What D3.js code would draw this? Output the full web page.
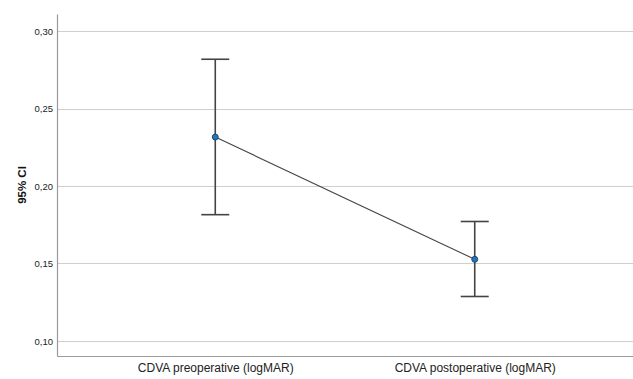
<!DOCTYPE html>
<html><head><meta charset="utf-8">
<script src="https://cdn.jsdelivr.net/npm/d3@7"></script>
<style>body{margin:0;background:#fff;}svg{display:block;}</style>
</head><body>
<script>
const categories = ["CDVA preoperative (logMAR)", "CDVA postoperative (logMAR)"];
const means = [0.2316, 0.1527];
const lower = [0.1815, 0.1287];
const upper = [0.2818, 0.1771];
const yTicks = [0.10, 0.15, 0.20, 0.25, 0.30];

(function () {
const W = 633, H = 379;
const mLeft = 57, mRight = 633, mTop = 14, mBottom = 356;
const svg = d3.select("body").append("svg").attr("width", W).attr("height", H);

const y = d3.scaleLinear().domain([0.0903, 0.311]).range([mBottom, mTop]);
const x = d3.scalePoint().domain(categories).range([mLeft, mRight]).padding(0.61);

// gridlines
svg.append("g").selectAll("line").data(yTicks).join("line")
  .attr("x1", mLeft).attr("x2", mRight)
  .attr("y1", d => Math.round(y(d)) + 0.5).attr("y2", d => Math.round(y(d)) + 0.5)
  .attr("stroke", "#cfcfcf").attr("stroke-width", 1);

// y axis
const yAxis = d3.axisLeft(y).tickValues(yTicks).tickSize(0).tickPadding(4)
  .tickFormat(d => d3.format(".2f")(d).replace(".", ","));
const gy = svg.append("g").attr("transform", `translate(${mLeft},0)`).call(yAxis);
gy.select(".domain").attr("stroke", "#9a9a9a").attr("stroke-width", 1.2);
gy.selectAll("text").attr("font-family", "Arial, 'Liberation Sans', sans-serif").attr("font-size", 9.5).attr("fill", "#222");

// x axis
const xAxis = d3.axisBottom(x).tickSize(0).tickPadding(7);
const gx = svg.append("g").attr("transform", `translate(0,${mBottom})`).call(xAxis);
gx.select(".domain").attr("stroke", "#9a9a9a").attr("stroke-width", 1.2);
gx.selectAll("text").attr("font-family", "Arial, 'Liberation Sans', sans-serif").attr("font-size", 12).attr("fill", "#222");

// y label
svg.append("text").attr("transform", `translate(26,${(mTop + mBottom) / 2}) rotate(-90)`)
  .attr("text-anchor", "middle").attr("font-family", "Arial, 'Liberation Sans', sans-serif")
  .attr("font-size", 11.5).attr("font-weight", "bold").attr("fill", "#111").text("95% CI");

const data = categories.map((c, i) => ({c, m: means[i], lo: lower[i], hi: upper[i]}));

// connecting line
svg.append("path").datum(data)
  .attr("d", d3.line().x(d => x(d.c)).y(d => y(d.m)))
  .attr("fill", "none").attr("stroke", "#444").attr("stroke-width", 1.1);

// error bars
const eb = svg.append("g").attr("stroke", "#444").attr("stroke-width", 1.6);
eb.selectAll(".v").data(data).join("line").attr("class", "v")
  .attr("x1", d => x(d.c)).attr("x2", d => x(d.c)).attr("y1", d => y(d.lo)).attr("y2", d => y(d.hi));
eb.selectAll(".t").data(data).join("line").attr("class", "t")
  .attr("x1", d => x(d.c) - 14).attr("x2", d => x(d.c) + 14).attr("y1", d => y(d.hi)).attr("y2", d => y(d.hi));
eb.selectAll(".b").data(data).join("line").attr("class", "b")
  .attr("x1", d => x(d.c) - 14).attr("x2", d => x(d.c) + 14).attr("y1", d => y(d.lo)).attr("y2", d => y(d.lo));

// points
svg.append("g").selectAll("circle").data(data).join("circle")
  .attr("cx", d => x(d.c)).attr("cy", d => y(d.m)).attr("r", 3)
  .attr("fill", "#1f77c4").attr("stroke", "#1a3550").attr("stroke-width", 0.8);
})();
</script>
</body></html>
